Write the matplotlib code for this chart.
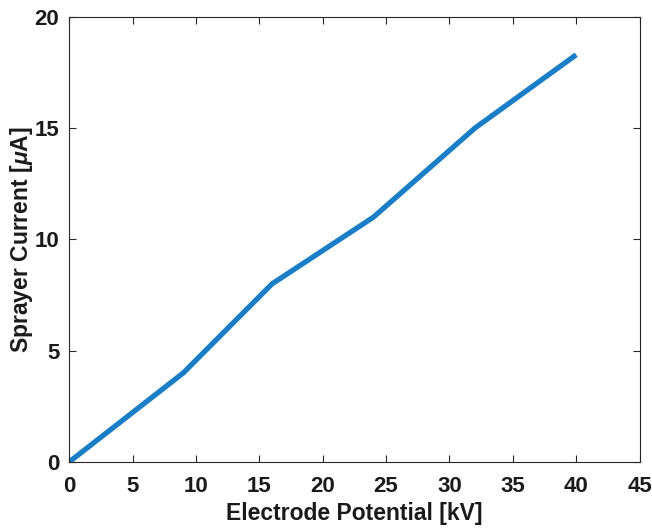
import matplotlib
matplotlib.use("Agg")
import matplotlib.pyplot as plt

potential_kv = [0, 9, 16, 24, 32, 40]
current_ua = [0, 4.0, 8.0, 11.0, 15.0, 18.3]
xticks = [0, 5, 10, 15, 20, 25, 30, 35, 40, 45]
yticks = [0, 5, 10, 15, 20]

plt.rcParams['font.family'] = ['Liberation Sans', 'DejaVu Sans']
plt.rcParams['mathtext.fontset'] = 'custom'
plt.rcParams['mathtext.it'] = 'Liberation Sans:italic:bold'
plt.rcParams['mathtext.rm'] = 'Liberation Sans:bold'

fig = plt.figure(figsize=(6.52, 5.28), dpi=100)
ax = fig.add_axes([0.106, 0.125, 0.875, 0.843])
ax.plot(potential_kv, current_ua, color='#1a7ec6', linewidth=3.8, solid_capstyle='butt')
ax.set_xlim(0, 45)
ax.set_ylim(0, 20)
ax.set_xticks(xticks)
ax.set_yticks(yticks)
ax.tick_params(direction='in', top=True, right=True, length=5, width=0.8,
               color='#262626', labelsize=16)
ax.tick_params(axis='x', pad=10)
ax.tick_params(axis='y', pad=7)
for lab in ax.get_xticklabels() + ax.get_yticklabels():
    lab.set_fontweight('bold')
    lab.set_color('#1a1a1a')
for s in ax.spines.values():
    s.set_color('#262626')
    s.set_linewidth(0.8)
ax.set_xlabel('Electrode Potential [kV]', fontsize=16.5, fontweight='bold', color='#1a1a1a', labelpad=4)
ax.set_ylabel(r'Sprayer Current [$\mu$A]', fontsize=16.5, fontweight='bold', color='#1a1a1a', labelpad=0)
fig.savefig('out.png', dpi=100)
